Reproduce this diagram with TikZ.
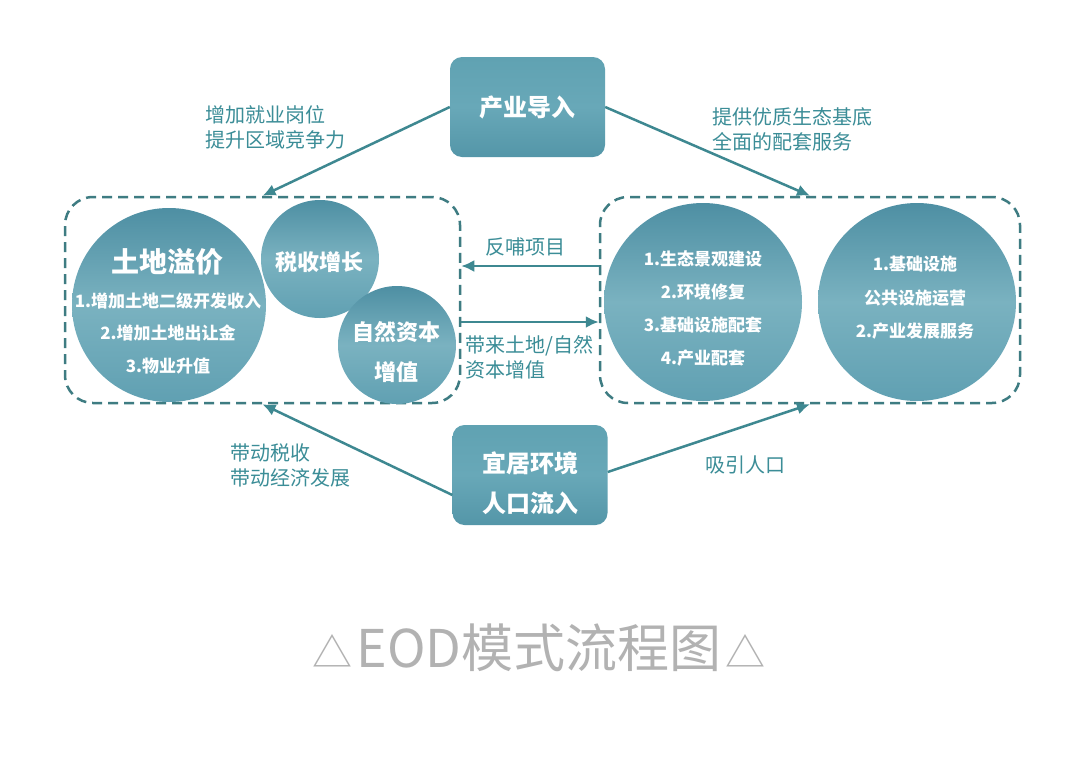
\documentclass[tikz,border=0pt]{standalone}
\usepackage{fontspec}
\newfontfamily\cjk{Noto Sans CJK SC}
\usetikzlibrary{arrows.meta}
\definecolor{tealtxt}{RGB}{59,141,151}
\definecolor{arrowc}{RGB}{62,136,145}
\definecolor{dashc}{RGB}{62,124,130}
\definecolor{circtop}{RGB}{78,143,163}
\definecolor{circmid}{RGB}{122,178,192}
\definecolor{circbot}{RGB}{96,160,178}
\definecolor{boxtop}{RGB}{96,162,178}
\definecolor{boxmid}{RGB}{104,168,184}
\definecolor{boxbot}{RGB}{84,150,168}
\definecolor{capc}{RGB}{178,178,178}
\begin{document}
\begin{tikzpicture}[x=1pt,y=-1pt,
  grp/.style={draw=dashc, line width=2.5pt, dash pattern=on 10pt off 6pt, rounded corners=28pt, inner sep=0pt},
  circ/.style={circle, inner sep=0pt, top color=circtop, bottom color=circbot, middle color=circmid},
  sqbox/.style={rounded corners=12pt, inner sep=0pt, minimum width=155pt, minimum height=100pt, top color=boxtop, bottom color=boxbot, middle color=boxmid},
  wtxt/.style={text=white, font=\cjk\bfseries, inner sep=0pt, align=center},
  lbl/.style={text=tealtxt, font=\cjk\fontsize{20}{25}\selectfont, inner sep=0pt, align=left},
  arr/.style={draw=arrowc, line width=2.5pt, -{Latex[length=13pt,width=12pt]}}
]
\useasboundingbox (0,0) rectangle (1080,756);
\fill[white] (0,0) rectangle (1080,756);

% dashed groups
\node[grp, minimum width=395pt, minimum height=206pt] (lgrp) at (262.5,300) {};
\node[grp, minimum width=420pt, minimum height=206pt] (rgrp) at (810,300) {};

% left circles
\node[circ, minimum size=194pt] (c1) at (169,305) {};
\node[circ, minimum size=118pt] (c2) at (320,259) {};
\node[circ, minimum size=118pt] (c3) at (397,345) {};
\node[wtxt, font=\cjk\bfseries\fontsize{28}{30}\selectfont] (c1t) at (167,262) {土地溢价};
\node[wtxt, font=\cjk\bfseries\fontsize{17}{32.5}\selectfont] (c1l) at (168,333) {1.增加土地二级开发收入\\2.增加土地出让金\\3.物业升值};
\node[wtxt, font=\cjk\bfseries\fontsize{22}{24}\selectfont] (c2t) at (319,262) {税收增长};
\node[wtxt, font=\cjk\bfseries\fontsize{22}{40}\selectfont] (c3t) at (396,352) {自然资本\\增值};

% right circles
\node[circ, minimum size=198pt] (c4) at (703,302) {};
\node[circ, minimum size=198pt] (c5) at (917,302) {};
\node[wtxt, font=\cjk\bfseries\fontsize{17}{33}\selectfont] (c4t) at (703,309) {1.生态景观建设\\2.环境修复\\3.基础设施配套\\4.产业配套};
\node[wtxt, font=\cjk\bfseries\fontsize{17}{33.5}\selectfont] (c5t) at (915,298) {1.基础设施\\公共设施运营\\2.产业发展服务};

% top and bottom boxes
\node[sqbox] (top) at (527.5,107) {};
\node[wtxt, font=\cjk\bfseries\fontsize{24}{26}\selectfont] (topt) at (top.center) {产业导入};
\node[sqbox] (bot) at (530,475) {};
\node[wtxt, font=\cjk\bfseries\fontsize{24}{40}\selectfont] (bott) at (530,483) {宜居环境\\人口流入};

% connectors
\draw[arr] (top.west) -- (lgrp.north);
\draw[arr] (top.east) -- (rgrp.north);
\draw[arr] ([yshift=-20pt]bot.west) -- (lgrp.south);
\draw[arr] ([yshift=3pt]bot.east) -- (rgrp.south);
\draw[arr] ([yshift=34pt]rgrp.west) -- ([yshift=34pt]lgrp.east);
\draw[arr] ([yshift=-22pt]lgrp.east) -- ([yshift=-22pt]rgrp.west);

% labels
\node[lbl, anchor=west] (l1) at (205,127.5) {增加就业岗位\\提升区域竞争力};
\node[lbl, anchor=west] (l2) at (712,129.5) {提供优质生态基底\\全面的配套服务};
\node[lbl, anchor=west] (l3) at (230,465.5) {带动税收\\带动经济发展};
\node[lbl, anchor=west] (l4) at (705,465) {吸引人口};
\node[lbl] (l5) at (525,247) {反哺项目};
\node[lbl, anchor=west] (l6) at (465,357.5) {带来土地/自然\\资本增值};

% caption
\node[text=capc, font=\cjk\fontsize{52}{54}\selectfont, inner sep=0pt] (cap) at (539,648) {{\fontsize{40}{42}\selectfont △}\hspace{4pt}EOD模式流程图\hspace{4pt}{\fontsize{40}{42}\selectfont △}};
\end{tikzpicture}
\end{document}
